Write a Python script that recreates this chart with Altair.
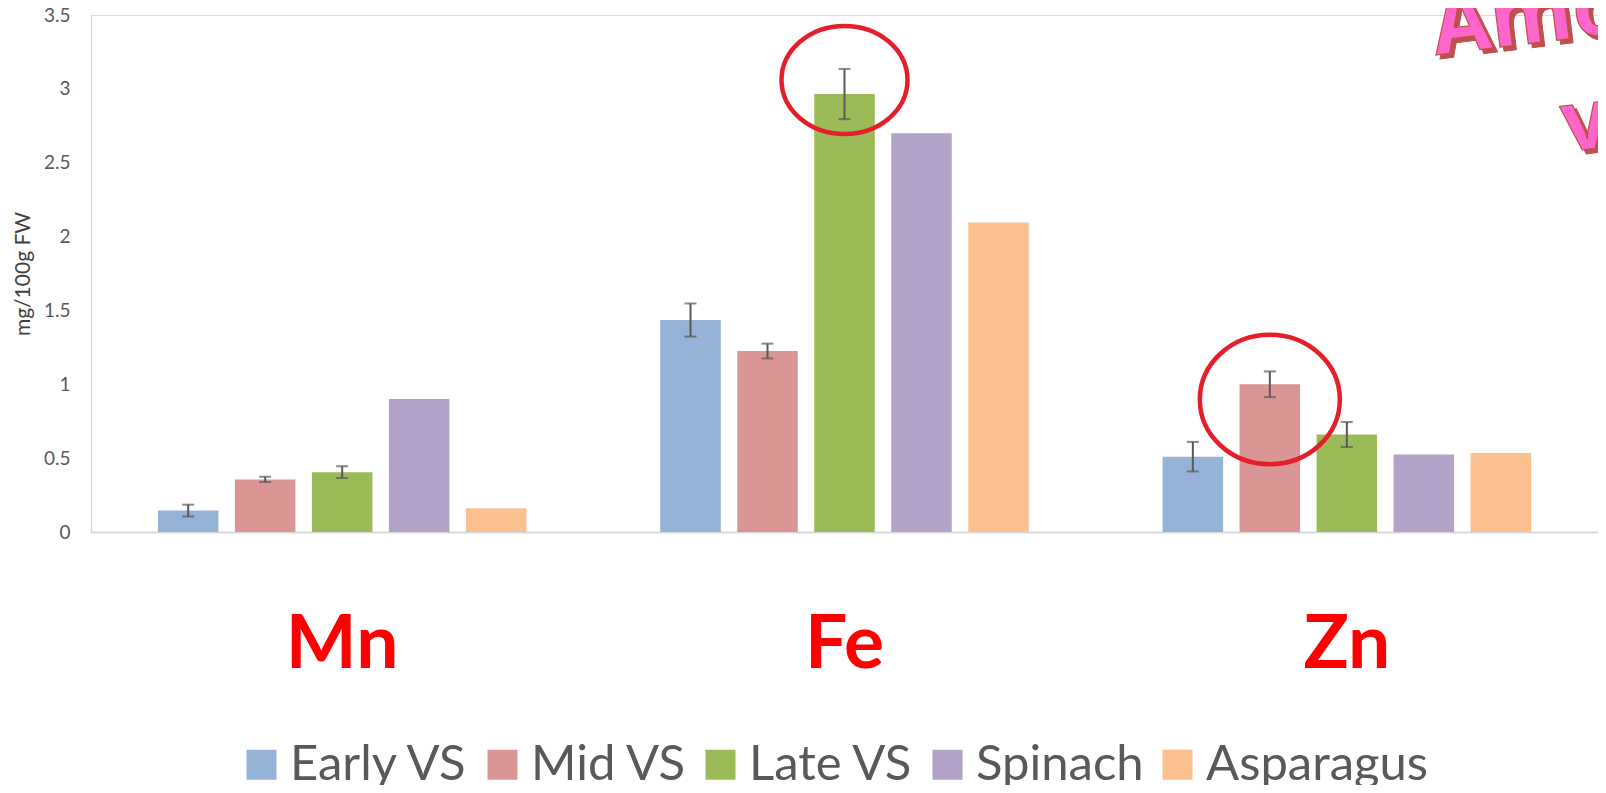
import altair as alt
import pandas as pd

elements = ["Mn", "Fe", "Zn"]
series = ["Early VS", "Mid VS", "Late VS", "Spinach", "Asparagus"]
colors = ["#95b3d7", "#d99694", "#9bbb59", "#b3a2c7", "#fac090"]

mn_vals = [0.145, 0.356, 0.405, 0.90, 0.16]
fe_vals = [1.435, 1.225, 2.965, 2.70, 2.095]
zn_vals = [0.51, 1.0, 0.66, 0.525, 0.535]

# error bars only for Early / Mid / Late VS
mn_err = [0.04, 0.018, 0.04]
fe_err = [0.112, 0.05, 0.17]
zn_err = [0.10, 0.087, 0.085]

y_ticks = [0, 0.5, 1, 1.5, 2, 2.5, 3, 3.5]
y_title = "mg/100g FW"

rows = []
for el, vals, errs in zip(elements, [mn_vals, fe_vals, zn_vals], [mn_err, fe_err, zn_err]):
    for i, s in enumerate(series):
        r = {"element": el, "series": s, "value": vals[i]}
        if i < len(errs):
            r["lo"] = vals[i] - errs[i]
            r["hi"] = vals[i] + errs[i]
        rows.append(r)
df = pd.DataFrame(rows)
err_df = df.dropna().reset_index(drop=True)

fe_circle = pd.DataFrame({"element": ["Fe"], "series": ["Late VS"], "cy": [3.06]})
zn_circle = pd.DataFrame({"element": ["Zn"], "series": ["Mid VS"], "cy": [0.897]})

x_enc = alt.X(
    "element:N",
    sort=elements,
    scale=alt.Scale(paddingInner=0, paddingOuter=0),
    axis=alt.Axis(
        title=None,
        labelAngle=0,
        labelFont="Lato",
        labelFontSize=75,
        labelFontWeight="bold",
        labelColor="#ff0000",
        labelPadding=76,
        ticks=False,
        tickSize=0,
        domainColor="#d9d9d9",
        domainWidth=2,
    ),
)
xoff_enc = alt.XOffset(
    "series:N", sort=series, scale=alt.Scale(paddingInner=0.214, paddingOuter=0.869)
)
y_scale = alt.Scale(domain=[0, 3.5], nice=False)
y_axis = alt.Axis(
    values=y_ticks,
    labelExpr="datum.value + ''",
    labelFont="Lato",
    labelFontSize=19,
    labelColor="#595959",
    labelPadding=21,
    ticks=False,
    tickSize=0,
    grid=False,
    domainColor="#ddd5c0",
    domainWidth=1.5,
    titleFont="Lato",
    titleFontSize=21,
    titleFontWeight="normal",
    titleColor="#404040",
    titlePadding=10,
)

bars = alt.Chart(df).mark_bar().encode(
    x=x_enc,
    xOffset=xoff_enc,
    y=alt.Y("value:Q", scale=y_scale, axis=y_axis, title=y_title),
    color=alt.Color(
        "series:N",
        sort=series,
        scale=alt.Scale(domain=series, range=colors),
        legend=alt.Legend(
            title=None,
            orient="none",
            legendX=146,
            legendY=725,
            direction="horizontal",
            symbolType="square",
            symbolSize=900,
            symbolStrokeWidth=0,
            labelFont="Lato",
            labelFontSize=49,
            labelColor="#595959",
            labelOffset=4,
            labelLimit=400,
            columnPadding=9,
            padding=0,
        ),
    ),
)

rules = alt.Chart(err_df).mark_rule(color="#595959", strokeWidth=2).encode(
    x=x_enc,
    xOffset=xoff_enc,
    y=alt.Y("lo:Q", scale=y_scale, axis=y_axis, title=y_title),
    y2="hi:Q",
)
caps_lo = alt.Chart(err_df).mark_tick(color="#595959", thickness=2, size=12).encode(
    x=x_enc, xOffset=xoff_enc, y=alt.Y("lo:Q", scale=y_scale, axis=y_axis, title=y_title)
)
caps_hi = alt.Chart(err_df).mark_tick(color="#595959", thickness=2, size=12).encode(
    x=x_enc, xOffset=xoff_enc, y=alt.Y("hi:Q", scale=y_scale, axis=y_axis, title=y_title)
)

ell_fe = "M-1,0A1,0.857,0,1,1,1,0A1,0.857,0,1,1,-1,0Z"
ell_zn = "M-1,0A1,0.924,0,1,1,1,0A1,0.924,0,1,1,-1,0Z"

circ_fe = alt.Chart(fe_circle).mark_point(
    shape=ell_fe, size=15876, filled=False, stroke="#e41e2b", strokeWidth=4.5,
    opacity=1, dx=-8,
).encode(x=x_enc, xOffset=xoff_enc, y=alt.Y("cy:Q", scale=y_scale, axis=y_axis, title=y_title))

circ_zn = alt.Chart(zn_circle).mark_point(
    shape=ell_zn, size=19600, filled=False, stroke="#e41e2b", strokeWidth=4.5,
    opacity=1, dx=33,
).encode(x=x_enc, xOffset=xoff_enc, y=alt.Y("cy:Q", scale=y_scale, axis=y_axis, title=y_title))

word1 = pd.DataFrame({"t": ["Amount"]})
word2 = pd.DataFrame({"t": ["vegetables"]})

def wordart(data, x, y, fill, stroke, sw):
    return alt.Chart(data).mark_text(
        font="Open Sans", fontSize=84, fontWeight="bold", align="left",
        baseline="alphabetic", angle=353, fill=fill, stroke=stroke, strokeWidth=sw,
    ).encode(x=alt.value(x), y=alt.value(y), text="t:N")

shadow1 = wordart(word1, 1349, 44, "#c0504d", "#c0504d", 1)
front1 = wordart(word1, 1345, 40, "#ff66cc", "#c0504d", 1.2)
shadow2 = wordart(word2, 1478, 141, "#c0504d", "#c0504d", 1)
front2 = wordart(word2, 1474, 137, "#ff66cc", "#c0504d", 1.2)

chart = (
    alt.layer(bars, rules, caps_lo, caps_hi, circ_fe, circ_zn, shadow1, front1, shadow2, front2)
    .properties(
        width=1507,
        height=517,
        padding={"left": 83, "top": 7, "right": 0, "bottom": 253},
        autosize=alt.AutoSizeParams(type="none"),
    )
    .configure_view(strokeWidth=0)
    .configure(font="Lato")
    .configure_axisY(
        labelFontSize=19,
        labelColor="#595959",
        labelPadding=21,
        titleFontSize=21,
        titleFontWeight="normal",
        titleColor="#404040",
        titlePadding=10,
    )
)

chart.save("out.html", embed_options={"renderer": "svg", "actions": False})
